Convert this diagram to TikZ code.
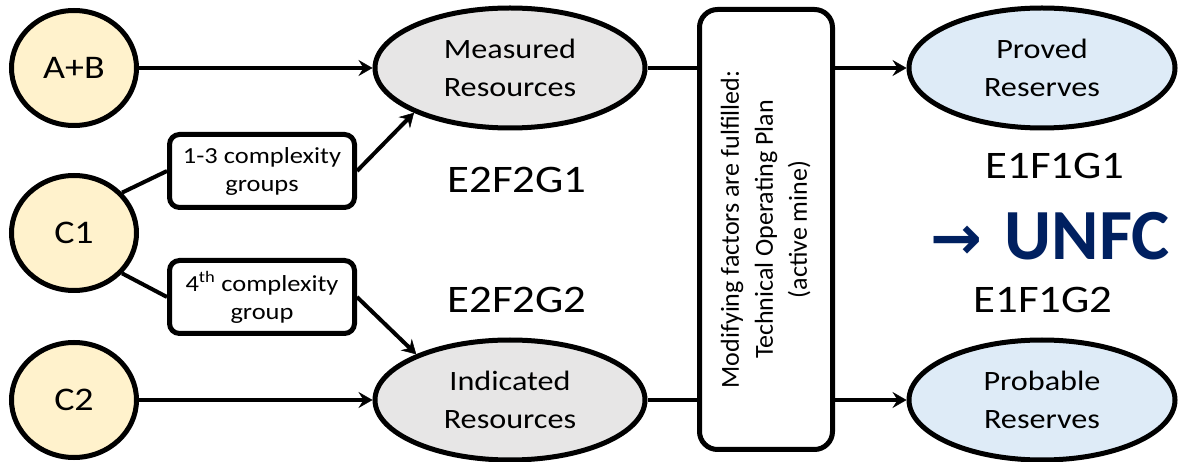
\documentclass[tikz,border=0pt]{standalone}
\usepackage{fontspec}
\setmainfont{Carlito}[FakeStretch=1.15]
\newfontfamily\plainfont{Carlito}
\newfontfamily\arrowfont{DejaVu Sans}
\usetikzlibrary{shapes.geometric,arrows.meta}
\definecolor{cream}{HTML}{FFF2CC}
\definecolor{resgray}{HTML}{E7E6E6}
\definecolor{resblue}{HTML}{DEEBF7}
\definecolor{navy}{HTML}{002060}
\begin{document}
\begin{tikzpicture}[x=1pt,y=-1pt,
  src/.style={ellipse,draw,line width=5pt,fill=cream,minimum width=125pt,minimum height=115pt,inner sep=0pt,font=\fontsize{33}{40}\selectfont},
  res/.style={ellipse,draw,line width=5pt,minimum width=270pt,minimum height=120pt,inner sep=0pt,align=center,font=\fontsize{28}{38}\selectfont},
  grp/.style={draw,line width=5pt,fill=white,rounded corners=10pt,minimum width=185pt,minimum height=73pt,inner sep=0pt,align=center,font=\fontsize{23}{28}\selectfont},
  code/.style={inner sep=0pt,font=\fontsize{39}{47}\selectfont},
  conn/.style={line width=4pt},
  arr/.style={conn,-{Stealth[length=14pt,width=16pt,inset=5pt,line width=0.5pt]}}
]
\useasboundingbox (0,0) rectangle (1179,462);
\node[src] (AB) at (74,68) {A+B};
\node[src] (C1) at (74,233) {C1};
\node[src] (C2) at (74,400) {C2};
\node[res,fill=resgray] (M) at (510,68) {Measured\\Resources};
\node[res,fill=resgray] (I) at (510,400) {Indicated\\Resources};
\node[res,fill=resblue,minimum width=266pt] (P) at (1042,68) {Proved\\Reserves};
\node[res,fill=resblue,minimum width=266pt] (Q) at (1042,400) {Probable\\Reserves};
\node[grp] (G1) at (262,171) {1-3 complexity\\groups};
\node[grp] (G2) at (262,297) {4\textsuperscript{th} complexity\\group};
\node[draw,line width=5pt,fill=white,rounded corners=18pt,minimum width=133pt,minimum height=440pt,inner sep=0pt] (V) at (766,229.5)
  {\rotatebox{90}{\plainfont\fontsize{26}{34}\selectfont\begin{tabular}{@{}c@{}}Modifying factors are fulfilled:\\Technical Operating Plan\\(active mine)\end{tabular}}};
\node[code] (c1) at (517,180) {E2F2G1};
\node[code] (c2) at (517,300) {E2F2G2};
\node[code] (c3) at (1055,166) {E1F1G1};
\node[code] (c4) at (1043,300) {E1F1G2};
\node[inner sep=0pt,anchor=base east,text=navy,font=\plainfont\bfseries\fontsize{72}{80}\selectfont] (U) at (1170,260)
  {{\arrowfont\fontsize{62}{70}\selectfont →}\hspace{22pt}UNFC};
\draw[arr] (AB) -- (M);
\draw[conn] (C1.40) -- (G1.west);
\draw[arr] (G1.east) -- (M.205);
\draw[conn] (C1.-40) -- (G2.west);
\draw[arr] (G2.east) -- (I.154);
\draw[arr] (C2) -- (I);
\draw[conn] (M) -- (M -| V.west);
\draw[arr] (V.east |- P) -- (P);
\draw[conn] (I) -- (I -| V.west);
\draw[arr] (V.east |- Q) -- (Q);
\end{tikzpicture}
\end{document}
